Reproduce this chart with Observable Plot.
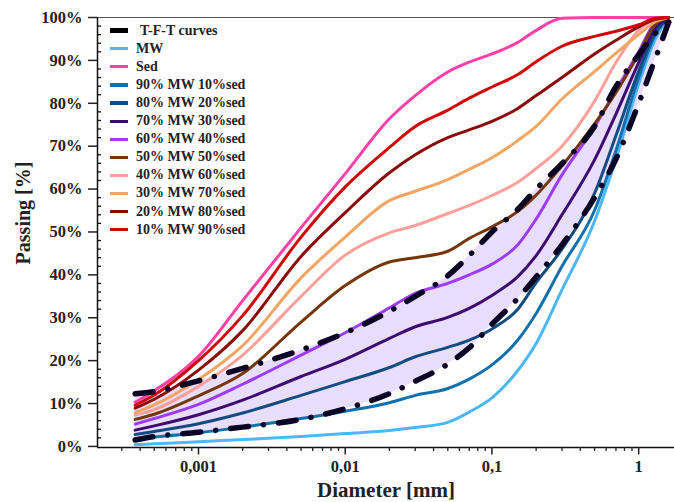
<!DOCTYPE html>
<html><head><meta charset="utf-8">
<script src="https://cdn.jsdelivr.net/npm/d3@7"></script>
<script src="https://cdn.jsdelivr.net/npm/@observablehq/plot@0.6"></script>
<style>
html,body{margin:0;padding:0;background:#fff;}
#wrap{position:relative;width:674px;height:502px;font-family:"Liberation Serif","Times New Roman",serif;}
#legend{position:absolute;left:110px;top:21.6px;font-weight:bold;font-size:14px;color:#222;}
.row{height:18.1px;display:flex;align-items:center;white-space:nowrap;}
.sw{width:18px;height:3.2px;margin-right:8px;flex:none;}
</style></head><body><div id="wrap"></div>
<script>
// Sieve diameters (mm) shared by all curves
const diameters = [0.00037, 0.0005, 0.001, 0.002, 0.005, 0.01, 0.02, 0.03, 0.05, 0.07, 0.1, 0.15, 0.2, 0.3, 0.5, 0.7, 1, 1.3, 1.6];

// Passing (%) per curve
const passMW    = [0.4, 0.6, 1.1, 1.6, 2.3, 3.0, 3.7, 4.4, 5.6, 8.0, 11.3, 17.7, 24.0, 36.5, 52.5, 67.0, 84.5, 95.0, 100];
const passSed   = [10.3, 13.0, 21.0, 34.0, 51.0, 63.6, 76.4, 81.8, 87.3, 89.6, 91.5, 94.2, 97.0, 99.8, 100, 100, 100, 100, 100];
const pass90MW  = [1.8, 2.2, 3.2, 4.5, 6.5, 8.2, 10.2, 11.9, 13.5, 15.7, 19.0, 24.8, 31.0, 42.0, 55.0, 69.0, 86.0, 96.0, 100];
const pass80MW  = [2.8, 3.5, 5.3, 7.8, 11.9, 15.1, 18.4, 20.9, 23.1, 24.8, 27.4, 32.0, 38.2, 46.0, 59.0, 72.5, 87.5, 96.5, 100];
const pass70MW  = [3.8, 4.8, 7.4, 10.8, 16.3, 20.3, 25.2, 27.9, 30.1, 32.2, 35.2, 39.6, 44.5, 54.0, 66.8, 77.5, 89.5, 97.5, 100];
const pass60MW  = [5.2, 6.5, 9.8, 14.5, 21.3, 26.5, 32.3, 35.7, 38.0, 40.0, 42.5, 47.0, 53.0, 63.3, 74.5, 83.0, 92.0, 98.8, 100];
const pass50MW  = [6.3, 7.5, 11.8, 17.0, 29.0, 37.5, 43.0, 44.0, 45.5, 48.5, 51.2, 54.8, 58.6, 65.4, 75.2, 82.5, 91.5, 98.5, 100];
const pass40MW  = [7.3, 8.6, 14.0, 21.3, 35.0, 44.6, 49.8, 51.5, 54.3, 56.2, 58.5, 61.6, 64.8, 70.0, 80.5, 89.5, 97.0, 99.5, 100];
const pass30MW  = [7.9, 9.7, 15.6, 23.5, 39.3, 48.8, 57.3, 59.5, 62.2, 64.6, 67.3, 71.3, 74.6, 81.0, 87.4, 91.7, 96.0, 99.0, 100];
const pass20MW  = [8.9, 11.0, 17.8, 27.0, 44.3, 54.5, 63.8, 68.0, 72.0, 73.8, 75.8, 78.8, 81.8, 86.0, 91.5, 94.7, 97.8, 99.6, 100];
const pass10MW  = [9.6, 12.0, 20.0, 30.5, 48.8, 60.5, 69.7, 74.6, 78.4, 81.2, 83.8, 86.7, 89.7, 93.3, 95.6, 96.8, 98.3, 99.8, 100];

// T-F-T envelope curves
const tftUpper  = [12.3, 12.8, 15.3, 18.2, 22.5, 26.5, 31.5, 35.0, 39.8, 44.5, 50.0, 55.3, 60.0, 65.9, 74.6, 83.9, 91.3, 96.3, 98.9];
const tftLower  = [1.5, 2.3, 3.3, 4.5, 6.3, 8.8, 12.3, 15.2, 19.2, 23.0, 28.5, 34.5, 39.5, 47.0, 58.0, 67.0, 80.0, 90.5, 98.9];

const seriesNames  = ["MW", "Sed", "90% MW 10%sed", "80% MW 20%sed", "70% MW 30%sed", "60% MW 40%sed", "50% MW 50%sed", "40% MW 60%sed", "30% MW 70%sed", "20% MW 80%sed", "10% MW 90%sed"];
const seriesValues = [passMW, passSed, pass90MW, pass80MW, pass70MW, pass60MW, pass50MW, pass40MW, pass30MW, pass20MW, pass10MW];
const seriesColors = ["#4cb8fb", "#ff40a6", "#1270ad", "#134c80", "#3c0b70", "#9d3cff", "#753609", "#ffa09b", "#f4a563", "#8b0b0b", "#d10404"];
const tftName = "T-F-T curves";
const tftColor = "#0c0425";
const shadeColor = "#e9ddfc";

const xTicks = [0.001, 0.01, 0.1, 1];
const xTickLabels = ["0,001", "0,01", "0,1", "1"];
const yTicks = [0, 10, 20, 30, 40, 50, 60, 70, 80, 90, 100];
const yTickLabels = ["0%", "10%", "20%", "30%", "40%", "50%", "60%", "70%", "80%", "90%", "100%"];
const xTitle = "Diameter [mm]";
const yTitle = "Passing [%]";

const xDomain = [0.000205, 1.754];
const yDomain = [-0.25, 100];

// build tables
const lineRows = [];
seriesNames.forEach((name, k) => {
  diameters.forEach((d, i) => lineRows.push({series: name, d, p: seriesValues[k][i], order: k}));
});
const tftRows = diameters.map((d, i) => ({d, lo: tftLower[i], hi: tftUpper[i]}));

// minor ticks
const minorX = [];
for (let e = -4; e <= 0; e++) for (let m = 2; m <= 9; m++) {
  const v = +(m * Math.pow(10, e)).toPrecision(3);
  if (v > xDomain[0] && v < xDomain[1]) minorX.push(v);
}
const minorY = d3.range(2, 100, 2).filter(v => v % 10 !== 0);

const plotW = 674 - 97;

const chart = Plot.plot({
  width: 674, height: 502,
  marginLeft: 97, marginRight: 0, marginTop: 17, marginBottom: 55,
  x: {type: "log", domain: xDomain, label: null},
  y: {domain: yDomain, label: null},
  style: {fontFamily: "'Liberation Serif','Times New Roman',serif", fontSize: "16.5px", fontWeight: "bold", color: "#222", background: "#fff"},
  marks: [
    Plot.areaY(tftRows, {x: "d", y1: "lo", y2: "hi", fill: shadeColor, curve: "monotone-x"}),
    Plot.ruleY([100], {stroke: "#555", strokeWidth: 1.2}),
    ...seriesNames.map((name, k) =>
      Plot.line(lineRows.filter(r => r.series === name), {x: "d", y: "p", stroke: seriesColors[k], strokeWidth: 3, curve: "monotone-x"})
    ),
    Plot.line(tftRows, {x: "d", y: "hi", stroke: tftColor, strokeWidth: 5.5, strokeDasharray: "18,15,0.1,15", strokeLinecap: "round", curve: "monotone-x"}),
    Plot.line(tftRows, {x: "d", y: "lo", stroke: tftColor, strokeWidth: 5.5, strokeDasharray: "18,15,0.1,15", strokeLinecap: "round", curve: "monotone-x"}),
    // axes
    Plot.ruleX([xDomain[0]], {stroke: "#111", strokeWidth: 1.5}),
    Plot.ruleY([yDomain[0]], {stroke: "#111", strokeWidth: 1.5}),
    Plot.ruleY(minorY, {insetRight: plotW - 4, stroke: "#111", strokeWidth: 1.3}),
    Plot.axisY(yTicks, {tickSize: 9, tickPadding: 6, strokeWidth: 1.5, tickFormat: d => yTickLabels[yTicks.indexOf(d)], label: null, fill: "#222"}),
    Plot.axisX(minorX, {tickSize: 4, strokeWidth: 1.3, tickFormat: () => "", label: null}),
    Plot.axisX(xTicks, {tickSize: 7.5, tickPadding: 5, strokeWidth: 1.5, tickFormat: d => xTickLabels[xTicks.indexOf(d)], label: null, fill: "#222"}),
    Plot.text([xTitle], {frameAnchor: "bottom", textAnchor: "middle", lineAnchor: "middle", dy: 43, fontSize: 21, fontWeight: "bold", fill: "#222"}),
    Plot.text([yTitle], {frameAnchor: "left", textAnchor: "middle", lineAnchor: "middle", rotate: -90, dx: -74, dy: -19.5, fontSize: 20, fontWeight: "bold", fill: "#222"})
  ]
});

const wrap = document.getElementById("wrap");
wrap.appendChild(chart);

// legend (inside plot area)
const legend = document.createElement("div");
legend.id = "legend";
const addRow = (name, color, thick, extraIndent) => {
  const row = document.createElement("div");
  row.className = "row";
  const sw = document.createElement("span");
  sw.className = "sw";
  sw.style.background = color;
  sw.style.height = thick + "px";
  const t = document.createElement("span");
  t.textContent = name;
  t.style.marginLeft = extraIndent + "px";
  row.appendChild(sw); row.appendChild(t);
  legend.appendChild(row);
};
addRow(tftName, "#000", 5.5, 4);
seriesNames.forEach((n, k) => addRow(n, seriesColors[k], 3.2, 0));
wrap.appendChild(legend);
</script>
</body></html>
